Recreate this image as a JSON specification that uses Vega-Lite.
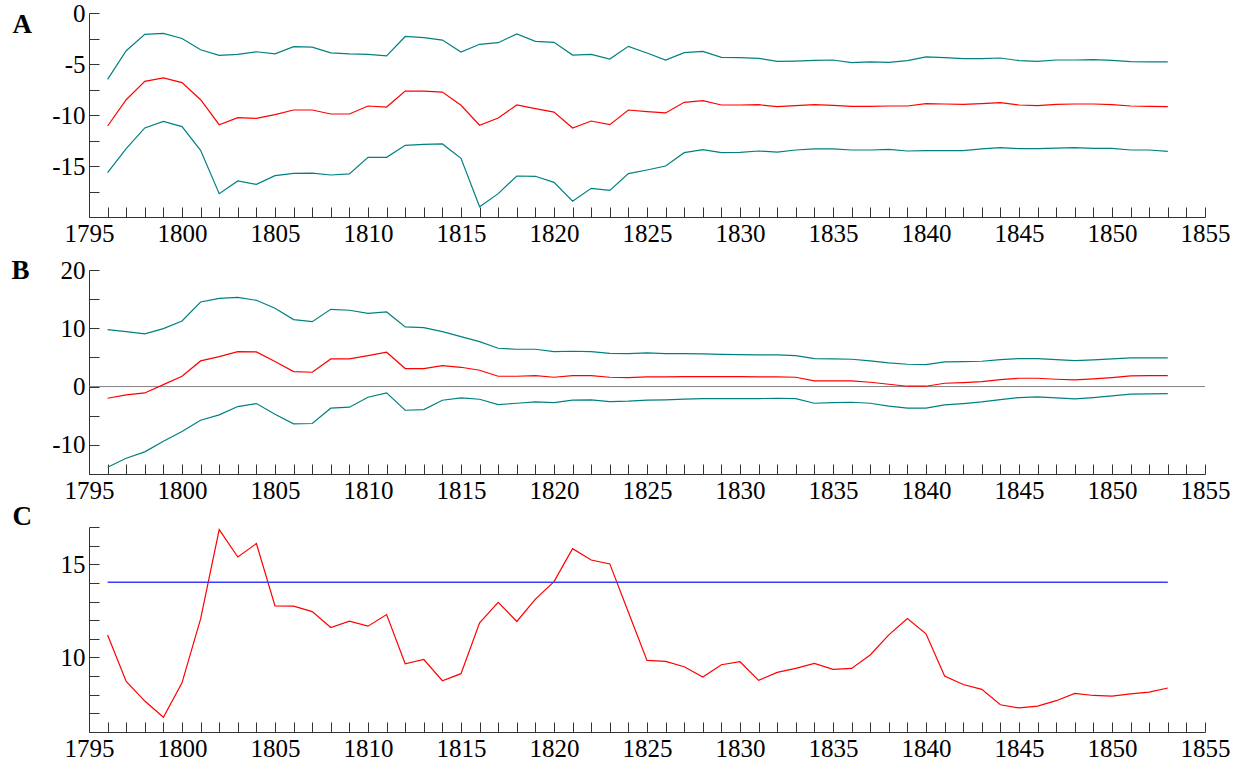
{
  "$schema": "https://vega.github.io/schema/vega-lite/v6.json",
  "padding": {"left": 11, "top": 1, "right": 5, "bottom": 0},
  "bounds": "flush",
  "spacing": 53,
  "config": {
    "font": "Liberation Serif",
    "view": {"stroke": null},
    "axis": {
      "grid": false,
      "domainColor": "#333",
      "tickColor": "#333",
      "labelFont": "Liberation Serif",
      "labelFontSize": 25,
      "labelColor": "#000",
      "labelFlush": false,
      "labelOverlap": false,
      "tickSize": -10,
      "titleFont": "Liberation Serif",
      "titleFontSize": 27,
      "titleFontWeight": "bold",
      "titleColor": "#000"
    },
    "axisX": {"labelPadding": 14},
    "axisY": {"labelPadding": 14},
    "line": {"strokeWidth": 1.2}
  },
  "datasets": {
    "a": [
      {"year": 1796, "lo": -15.65, "mid": -11.08, "hi": -6.5},
      {"year": 1797, "lo": -13.3, "mid": -8.5, "hi": -3.7},
      {"year": 1798, "lo": -11.27, "mid": -6.7, "hi": -2.1},
      {"year": 1799, "lo": -10.62, "mid": -6.37, "hi": -2.0},
      {"year": 1800, "lo": -11.14, "mid": -6.83, "hi": -2.5},
      {"year": 1801, "lo": -13.46, "mid": -8.5, "hi": -3.6},
      {"year": 1802, "lo": -17.71, "mid": -10.95, "hi": -4.15},
      {"year": 1803, "lo": -16.47, "mid": -10.26, "hi": -4.05},
      {"year": 1804, "lo": -16.8, "mid": -10.33, "hi": -3.8},
      {"year": 1805, "lo": -15.95, "mid": -9.97, "hi": -4.0},
      {"year": 1806, "lo": -15.72, "mid": -9.51, "hi": -3.3},
      {"year": 1807, "lo": -15.69, "mid": -9.51, "hi": -3.35},
      {"year": 1808, "lo": -15.88, "mid": -9.9, "hi": -3.9},
      {"year": 1809, "lo": -15.78, "mid": -9.9, "hi": -4.0},
      {"year": 1810, "lo": -14.15, "mid": -9.12, "hi": -4.05},
      {"year": 1811, "lo": -14.15, "mid": -9.22, "hi": -4.2},
      {"year": 1812, "lo": -12.97, "mid": -7.65, "hi": -2.3},
      {"year": 1813, "lo": -12.88, "mid": -7.65, "hi": -2.42},
      {"year": 1814, "lo": -12.84, "mid": -7.75, "hi": -2.65},
      {"year": 1815, "lo": -14.25, "mid": -9.05, "hi": -3.82},
      {"year": 1816, "lo": -18.99, "mid": -11.0, "hi": -3.07},
      {"year": 1817, "lo": -17.71, "mid": -10.29, "hi": -2.91},
      {"year": 1818, "lo": -15.98, "mid": -9.02, "hi": -2.06},
      {"year": 1819, "lo": -16.01, "mid": -9.38, "hi": -2.78},
      {"year": 1820, "lo": -16.6, "mid": -9.71, "hi": -2.88},
      {"year": 1821, "lo": -18.46, "mid": -11.27, "hi": -4.12},
      {"year": 1822, "lo": -17.19, "mid": -10.59, "hi": -4.05},
      {"year": 1823, "lo": -17.39, "mid": -10.95, "hi": -4.51},
      {"year": 1824, "lo": -15.75, "mid": -9.51, "hi": -3.27},
      {"year": 1825, "lo": -15.39, "mid": -9.67, "hi": -3.92},
      {"year": 1826, "lo": -15.0, "mid": -9.8, "hi": -4.61},
      {"year": 1827, "lo": -13.69, "mid": -8.76, "hi": -3.89},
      {"year": 1828, "lo": -13.4, "mid": -8.6, "hi": -3.76},
      {"year": 1829, "lo": -13.69, "mid": -9.02, "hi": -4.35},
      {"year": 1830, "lo": -13.66, "mid": -9.02, "hi": -4.38},
      {"year": 1831, "lo": -13.53, "mid": -8.99, "hi": -4.44},
      {"year": 1832, "lo": -13.63, "mid": -9.18, "hi": -4.74},
      {"year": 1833, "lo": -13.43, "mid": -9.08, "hi": -4.71},
      {"year": 1834, "lo": -13.33, "mid": -8.99, "hi": -4.64},
      {"year": 1835, "lo": -13.33, "mid": -9.05, "hi": -4.61},
      {"year": 1836, "lo": -13.43, "mid": -9.15, "hi": -4.87},
      {"year": 1837, "lo": -13.43, "mid": -9.15, "hi": -4.8},
      {"year": 1838, "lo": -13.37, "mid": -9.12, "hi": -4.84},
      {"year": 1839, "lo": -13.53, "mid": -9.12, "hi": -4.67},
      {"year": 1840, "lo": -13.5, "mid": -8.89, "hi": -4.31},
      {"year": 1841, "lo": -13.5, "mid": -8.92, "hi": -4.38},
      {"year": 1842, "lo": -13.5, "mid": -8.95, "hi": -4.48},
      {"year": 1843, "lo": -13.33, "mid": -8.89, "hi": -4.48},
      {"year": 1844, "lo": -13.2, "mid": -8.79, "hi": -4.41},
      {"year": 1845, "lo": -13.3, "mid": -9.02, "hi": -4.67},
      {"year": 1846, "lo": -13.3, "mid": -9.08, "hi": -4.74},
      {"year": 1847, "lo": -13.24, "mid": -8.95, "hi": -4.61},
      {"year": 1848, "lo": -13.2, "mid": -8.92, "hi": -4.61},
      {"year": 1849, "lo": -13.27, "mid": -8.92, "hi": -4.58},
      {"year": 1850, "lo": -13.27, "mid": -8.99, "hi": -4.64},
      {"year": 1851, "lo": -13.43, "mid": -9.12, "hi": -4.77},
      {"year": 1852, "lo": -13.43, "mid": -9.15, "hi": -4.8},
      {"year": 1853, "lo": -13.56, "mid": -9.18, "hi": -4.8}
    ],
    "b": [
      {"year": 1796, "lo": -13.83, "mid": -2.0, "hi": 9.77},
      {"year": 1797, "lo": -12.29, "mid": -1.43, "hi": 9.43},
      {"year": 1798, "lo": -11.2, "mid": -1.09, "hi": 9.03},
      {"year": 1799, "lo": -9.37, "mid": 0.34, "hi": 9.94},
      {"year": 1800, "lo": -7.71, "mid": 1.77, "hi": 11.26},
      {"year": 1801, "lo": -5.77, "mid": 4.4, "hi": 14.51},
      {"year": 1802, "lo": -4.86, "mid": 5.14, "hi": 15.14},
      {"year": 1803, "lo": -3.43, "mid": 6.0, "hi": 15.31},
      {"year": 1804, "lo": -2.91, "mid": 5.94, "hi": 14.8},
      {"year": 1805, "lo": -4.74, "mid": 4.29, "hi": 13.43},
      {"year": 1806, "lo": -6.4, "mid": 2.57, "hi": 11.49},
      {"year": 1807, "lo": -6.34, "mid": 2.46, "hi": 11.14},
      {"year": 1808, "lo": -3.71, "mid": 4.74, "hi": 13.26},
      {"year": 1809, "lo": -3.54, "mid": 4.74, "hi": 13.09},
      {"year": 1810, "lo": -1.83, "mid": 5.31, "hi": 12.57},
      {"year": 1811, "lo": -1.09, "mid": 5.89, "hi": 12.8},
      {"year": 1812, "lo": -4.06, "mid": 3.09, "hi": 10.23},
      {"year": 1813, "lo": -3.94, "mid": 3.09, "hi": 10.11},
      {"year": 1814, "lo": -2.34, "mid": 3.6, "hi": 9.43},
      {"year": 1815, "lo": -1.94, "mid": 3.31, "hi": 8.57},
      {"year": 1816, "lo": -2.17, "mid": 2.8, "hi": 7.71},
      {"year": 1817, "lo": -3.09, "mid": 1.77, "hi": 6.57},
      {"year": 1818, "lo": -2.86, "mid": 1.77, "hi": 6.4},
      {"year": 1819, "lo": -2.63, "mid": 1.89, "hi": 6.4},
      {"year": 1820, "lo": -2.74, "mid": 1.6, "hi": 6.0},
      {"year": 1821, "lo": -2.34, "mid": 1.89, "hi": 6.06},
      {"year": 1822, "lo": -2.29, "mid": 1.89, "hi": 6.0},
      {"year": 1823, "lo": -2.57, "mid": 1.6, "hi": 5.71},
      {"year": 1824, "lo": -2.51, "mid": 1.54, "hi": 5.66},
      {"year": 1825, "lo": -2.34, "mid": 1.66, "hi": 5.77},
      {"year": 1826, "lo": -2.29, "mid": 1.66, "hi": 5.66},
      {"year": 1827, "lo": -2.17, "mid": 1.71, "hi": 5.66},
      {"year": 1828, "lo": -2.06, "mid": 1.71, "hi": 5.6},
      {"year": 1829, "lo": -2.06, "mid": 1.71, "hi": 5.54},
      {"year": 1830, "lo": -2.06, "mid": 1.71, "hi": 5.49},
      {"year": 1831, "lo": -2.06, "mid": 1.66, "hi": 5.43},
      {"year": 1832, "lo": -2.0, "mid": 1.66, "hi": 5.43},
      {"year": 1833, "lo": -2.06, "mid": 1.6, "hi": 5.31},
      {"year": 1834, "lo": -2.86, "mid": 0.97, "hi": 4.8},
      {"year": 1835, "lo": -2.74, "mid": 0.97, "hi": 4.74},
      {"year": 1836, "lo": -2.69, "mid": 0.97, "hi": 4.69},
      {"year": 1837, "lo": -2.86, "mid": 0.74, "hi": 4.4},
      {"year": 1838, "lo": -3.37, "mid": 0.4, "hi": 4.06},
      {"year": 1839, "lo": -3.71, "mid": 0.06, "hi": 3.83},
      {"year": 1840, "lo": -3.71, "mid": 0.06, "hi": 3.77},
      {"year": 1841, "lo": -3.14, "mid": 0.57, "hi": 4.23},
      {"year": 1842, "lo": -2.91, "mid": 0.69, "hi": 4.29},
      {"year": 1843, "lo": -2.63, "mid": 0.86, "hi": 4.34},
      {"year": 1844, "lo": -2.23, "mid": 1.2, "hi": 4.63},
      {"year": 1845, "lo": -1.89, "mid": 1.43, "hi": 4.8},
      {"year": 1846, "lo": -1.77, "mid": 1.43, "hi": 4.8},
      {"year": 1847, "lo": -1.94, "mid": 1.26, "hi": 4.63},
      {"year": 1848, "lo": -2.11, "mid": 1.14, "hi": 4.46},
      {"year": 1849, "lo": -1.89, "mid": 1.31, "hi": 4.57},
      {"year": 1850, "lo": -1.6, "mid": 1.54, "hi": 4.74},
      {"year": 1851, "lo": -1.31, "mid": 1.83, "hi": 4.91},
      {"year": 1852, "lo": -1.26, "mid": 1.89, "hi": 4.91},
      {"year": 1853, "lo": -1.2, "mid": 1.89, "hi": 4.91}
    ],
    "bZero": [{"year": 1795, "end": 1855, "value": 0}],
    "c": [
      {"year": 1796, "value": 11.21}, {"year": 1797, "value": 8.71},
      {"year": 1798, "value": 7.66}, {"year": 1799, "value": 6.79},
      {"year": 1800, "value": 8.64}, {"year": 1801, "value": 12.07},
      {"year": 1802, "value": 16.86}, {"year": 1803, "value": 15.39},
      {"year": 1804, "value": 16.11}, {"year": 1805, "value": 12.77},
      {"year": 1806, "value": 12.75}, {"year": 1807, "value": 12.46},
      {"year": 1808, "value": 11.61}, {"year": 1809, "value": 11.95},
      {"year": 1810, "value": 11.68}, {"year": 1811, "value": 12.3},
      {"year": 1812, "value": 9.66}, {"year": 1813, "value": 9.89},
      {"year": 1814, "value": 8.75}, {"year": 1815, "value": 9.13},
      {"year": 1816, "value": 11.86}, {"year": 1817, "value": 12.96},
      {"year": 1818, "value": 11.93}, {"year": 1819, "value": 13.13},
      {"year": 1820, "value": 14.07}, {"year": 1821, "value": 15.84},
      {"year": 1822, "value": 15.23}, {"year": 1823, "value": 15.02},
      {"year": 1824, "value": 12.43}, {"year": 1825, "value": 9.84},
      {"year": 1826, "value": 9.79}, {"year": 1827, "value": 9.5},
      {"year": 1828, "value": 8.95}, {"year": 1829, "value": 9.61},
      {"year": 1830, "value": 9.77}, {"year": 1831, "value": 8.77},
      {"year": 1832, "value": 9.2}, {"year": 1833, "value": 9.41},
      {"year": 1834, "value": 9.68}, {"year": 1835, "value": 9.36},
      {"year": 1836, "value": 9.41}, {"year": 1837, "value": 10.13},
      {"year": 1838, "value": 11.21}, {"year": 1839, "value": 12.09},
      {"year": 1840, "value": 11.27}, {"year": 1841, "value": 9.0},
      {"year": 1842, "value": 8.55}, {"year": 1843, "value": 8.29},
      {"year": 1844, "value": 7.46}, {"year": 1845, "value": 7.29},
      {"year": 1846, "value": 7.39}, {"year": 1847, "value": 7.68},
      {"year": 1848, "value": 8.07}, {"year": 1849, "value": 7.96},
      {"year": 1850, "value": 7.93}, {"year": 1851, "value": 8.05},
      {"year": 1852, "value": 8.14}, {"year": 1853, "value": 8.36}
    ],
    "cLevel": [{"year": 1796, "end": 1853, "value": 14.04}]
  },
  "vconcat": [
    {
      "width": 1116,
      "height": 204,
      "data": {"name": "a"},
      "transform": [{"fold": ["lo", "mid", "hi"], "as": ["series", "value"]}],
      "mark": "line",
      "encoding": {
        "x": {
          "field": "year", "type": "quantitative",
          "scale": {"domain": [1795, 1855], "nice": false, "zero": false},
          "axis": {
            "title": null,
            "values": [1795,1796,1797,1798,1799,1800,1801,1802,1803,1804,1805,1806,1807,1808,1809,1810,1811,1812,1813,1814,1815,1816,1817,1818,1819,1820,1821,1822,1823,1824,1825,1826,1827,1828,1829,1830,1831,1832,1833,1834,1835,1836,1837,1838,1839,1840,1841,1842,1843,1844,1845,1846,1847,1848,1849,1850,1851,1852,1853,1854,1855],
            "labelExpr": "datum.value % 5 === 0 ? '' + datum.value : ''",
            "encode": {"ticks": {"update": {"y2": {"signal": "datum.value % 5 === 0 ? -10 : -5"}}}}
          }
        },
        "y": {
          "field": "value", "type": "quantitative",
          "scale": {"domain": [-20, 0], "nice": false, "zero": false},
          "axis": {
            "title": "A", "titleAngle": 0, "titleX": -77, "titleY": 19,
            "titleAlign": "left", "titleBaseline": "alphabetic",
            "values": [0, -2.5, -5, -7.5, -10, -12.5, -15, -17.5, -20],
            "labelExpr": "datum.value % 5 === 0 && datum.value > -20 ? (datum.value < 0 ? '-' : '') + abs(datum.value) : ''",
            "encode": {"ticks": {"update": {"x2": {"signal": "datum.value % 5 === 0 ? 10 : 5"}}}}
          }
        },
        "color": {
          "field": "series", "type": "nominal",
          "scale": {"domain": ["lo", "mid", "hi"], "range": ["#008080", "#ff0000", "#008080"]},
          "legend": null
        }
      }
    },
    {
      "width": 1116,
      "height": 204,
      "encoding": {
        "x": {
          "field": "year", "type": "quantitative",
          "scale": {"domain": [1795, 1855], "nice": false, "zero": false},
          "axis": {
            "title": null,
            "values": [1795,1796,1797,1798,1799,1800,1801,1802,1803,1804,1805,1806,1807,1808,1809,1810,1811,1812,1813,1814,1815,1816,1817,1818,1819,1820,1821,1822,1823,1824,1825,1826,1827,1828,1829,1830,1831,1832,1833,1834,1835,1836,1837,1838,1839,1840,1841,1842,1843,1844,1845,1846,1847,1848,1849,1850,1851,1852,1853,1854,1855],
            "labelExpr": "datum.value % 5 === 0 ? '' + datum.value : ''",
            "encode": {"ticks": {"update": {"y2": {"signal": "datum.value % 5 === 0 ? -10 : -5"}}}}
          }
        },
        "y": {
          "field": "value", "type": "quantitative",
          "scale": {"domain": [-15, 20], "nice": false, "zero": false},
          "axis": {
            "title": "B", "titleAngle": 0, "titleX": -78, "titleY": 8,
            "titleAlign": "left", "titleBaseline": "alphabetic",
            "values": [20, 15, 10, 5, 0, -5, -10, -15],
            "labelExpr": "datum.value % 10 === 0 ? (datum.value < 0 ? '-' : '') + abs(datum.value) : ''",
            "encode": {"ticks": {"update": {"x2": {"signal": "datum.value % 10 === 0 ? 10 : 5"}}}}
          }
        }
      },
      "layer": [
        {
          "data": {"name": "bZero"},
          "mark": {"type": "rule", "color": "#808080", "strokeWidth": 1},
          "encoding": {"x2": {"field": "end"}}
        },
        {
          "data": {"name": "b"},
          "transform": [{"fold": ["lo", "mid", "hi"], "as": ["series", "value"]}],
          "mark": "line",
          "encoding": {
            "color": {
              "field": "series", "type": "nominal",
              "scale": {"domain": ["lo", "mid", "hi"], "range": ["#008080", "#ff0000", "#008080"]},
              "legend": null
            }
          }
        }
      ]
    },
    {
      "width": 1116,
      "height": 205,
      "encoding": {
        "x": {
          "field": "year", "type": "quantitative",
          "scale": {"domain": [1795, 1855], "nice": false, "zero": false},
          "axis": {
            "title": null,
            "values": [1795,1796,1797,1798,1799,1800,1801,1802,1803,1804,1805,1806,1807,1808,1809,1810,1811,1812,1813,1814,1815,1816,1817,1818,1819,1820,1821,1822,1823,1824,1825,1826,1827,1828,1829,1830,1831,1832,1833,1834,1835,1836,1837,1838,1839,1840,1841,1842,1843,1844,1845,1846,1847,1848,1849,1850,1851,1852,1853,1854,1855],
            "labelExpr": "datum.value % 5 === 0 ? '' + datum.value : ''",
            "encode": {"ticks": {"update": {"y2": {"signal": "datum.value % 5 === 0 ? -10 : -5"}}}}
          }
        },
        "y": {
          "field": "value", "type": "quantitative",
          "scale": {"domain": [6, 17], "nice": false, "zero": false},
          "axis": {
            "title": "C", "titleAngle": 0, "titleX": -77, "titleY": -3,
            "titleAlign": "left", "titleBaseline": "alphabetic",
            "values": [6, 7, 8, 9, 10, 11, 12, 13, 14, 15, 16, 17],
            "labelExpr": "datum.value % 5 === 0 ? '' + datum.value : ''",
            "encode": {"ticks": {"update": {"x2": {"signal": "datum.value % 5 === 0 ? 10 : 5"}}}}
          }
        }
      },
      "layer": [
        {
          "data": {"name": "c"},
          "mark": {"type": "line", "color": "#ff0000"}
        },
        {
          "data": {"name": "cLevel"},
          "mark": {"type": "rule", "color": "#3c3cff", "strokeWidth": 1.5},
          "encoding": {"x2": {"field": "end"}}
        }
      ]
    }
  ]
}
